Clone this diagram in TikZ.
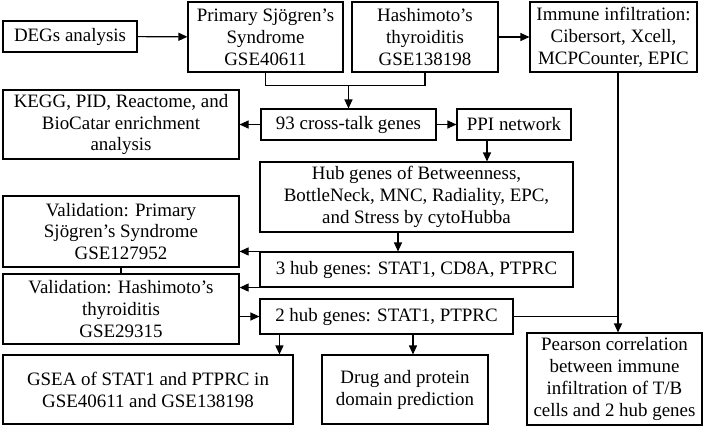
\documentclass[tikz,border=0pt]{standalone}
\usepackage{fontspec}
\setmainfont{Liberation Serif}
\usetikzlibrary{arrows.meta}
\begin{document}
\begin{tikzpicture}[x=1bp,y=-1bp,line width=1.1bp,>={Triangle[length=9bp,width=8bp]},
  box/.style={draw,align=center,inner sep=0pt,font=\fontsize{19}{22}\selectfont}]

\useasboundingbox (0,0) rectangle (708,427);
\node[box,minimum width=134bp,minimum height=31bp] (degs) at (70,36.5) {DEGs analysis};
\node[box,minimum width=155bp,minimum height=70bp] (pss) at (265.5,37) {Primary Sjögren’s\\Syndrome\\GSE40611};
\node[box,minimum width=146bp,minimum height=70bp] (ht) at (425,37) {Hashimoto’s\\thyroiditis\\GSE138198};
\node[box,minimum width=167bp,minimum height=70bp] (imm) at (613.5,37) {Immune infiltration:\\Cibersort, Xcell,\\MCPCounter, EPIC};
\node[box,minimum width=236bp,minimum height=69bp] (kegg) at (121,124.5) {KEGG, PID, Reactome, and\\BioCatar enrichment\\analysis};
\node[box,minimum width=175bp,minimum height=31bp] (cross) at (348.5,124.5) {93 cross-talk genes};
\node[box,minimum width=114bp,minimum height=31bp] (ppi) at (514,124.5) {PPI network};
\node[box,minimum width=313bp,minimum height=70bp] (hub) at (416.5,197) {Hub genes of Betweenness,\\BottleNeck, MNC, Radiality, EPC,\\and Stress by cytoHubba};
\node[box,minimum width=313bp,minimum height=35bp] (three) at (416.5,269.5) {3 hub genes: STAT1, CD8A, PTPRC};
\node[box,minimum width=236bp,minimum height=71bp] (valpss) at (121,231.5) {Validation: Primary\\Sjögren’s Syndrome\\GSE127952};
\node[box,minimum width=236bp,minimum height=70bp] (valht) at (121,309) {Validation: Hashimoto’s\\thyroiditis\\GSE29315};
\node[box,minimum width=253bp,minimum height=35bp] (two) at (386.5,316.5) {2 hub genes: STAT1, PTPRC};
\node[box,minimum width=290bp,minimum height=69bp] (gsea) at (148,389.5) {GSEA of STAT1 and PTPRC in\\GSE40611 and GSE138198};
\node[box,minimum width=166bp,minimum height=69bp] (drug) at (405,389.5) {Drug and protein\\domain prediction};
\node[box,minimum width=175bp,minimum height=92bp] (pear) at (614.5,379) {Pearson correlation\\between immune\\infiltration of T/B\\cells and 2 hub genes};
\coordinate (join) at ([yshift=23bp]cross.north);
\coordinate (p1) at ([xshift=-27bp]ppi.south);
\coordinate (h1) at ([xshift=-18.5bp]hub.south);
\coordinate (g1) at ([xshift=20bp]two.south west);
\coordinate (d1) at ([xshift=8bp]drug.north);
\coordinate (c1) at ([xshift=4.5bp]imm.south);
\draw[->] (degs) -- (pss);
\draw[->] (ht) -- (imm);
\draw (pss.south) |- (join) -| (ht.south);
\draw[->] (join) -- (cross.north);
\draw[->] (cross) -- (kegg);
\draw[->] (cross) -- (ppi);
\draw[->] (p1) -- (p1 |- hub.north);
\draw[->] (h1) -- (h1 |- three.north);
\draw[->] (three.north west) -- (three.north west -| valpss.east);
\draw[->] (three.south west) -- (three.south west -| valht.east);
\draw (valpss) -- (valht);
\draw[->] (valht.east |- two.west) -- (two.west);
\draw[->] (g1) -- (g1 |- gsea.north);
\draw[->] (d1 |- two.south) -- (d1);
\draw[->] (c1) -- (c1 |- pear.north);
\draw (two.east) -- (two.east -| c1);
\end{tikzpicture}
\end{document}
